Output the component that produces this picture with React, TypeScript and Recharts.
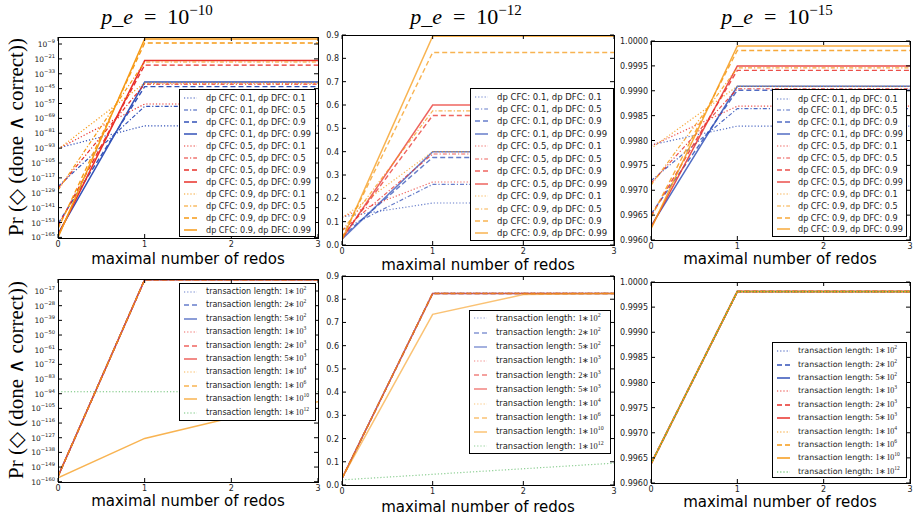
import React from "react";
import { LineChart, Line, XAxis, YAxis, Legend } from "recharts";

// x axis: maximal number of redos
const redos = [0, 1, 2, 3];

const cfcLevels = ["0.1", "0.5", "0.9"];
const dfcLevels = ["0.1", "0.5", "0.9", "0.99"];

// rows: CFC 0.1 (DFC 0.1, 0.5, 0.9, 0.99), CFC 0.5 (...), CFC 0.9 (...)
const pe10Values = [
  [1e-93, 1e-75, 1e-75, 1e-75],
  [1e-124, 5e-60, 5e-60, 5e-60],
  [1e-154, 4e-44, 4e-44, 4e-44],
  [1e-162, 2e-40, 2e-40, 2e-40],
  [3e-94, 4e-58, 4e-58, 4e-58],
  [3e-126, 5e-42, 5e-42, 5e-42],
  [1e-156, 1e-26, 1e-26, 1e-26],
  [3e-164, 4e-23, 4e-23, 4e-23],
  [1e-94, 3e-41, 3e-41, 3e-41],
  [1e-127, 3e-24, 3e-24, 3e-24],
  [1e-158, 6e-9, 6e-9, 6e-9],
  [1e-165, 1e-5, 1e-5, 1e-5],
];

const pe12Values = [
  [0.12, 0.18, 0.18, 0.18],
  [0.065, 0.26, 0.26, 0.26],
  [0.035, 0.375, 0.375, 0.375],
  [0.025, 0.4, 0.4, 0.4],
  [0.12, 0.27, 0.27, 0.27],
  [0.062, 0.39, 0.39, 0.39],
  [0.033, 0.555, 0.555, 0.555],
  [0.025, 0.6, 0.6, 0.6],
  [0.115, 0.4, 0.4, 0.4],
  [0.06, 0.575, 0.575, 0.575],
  [0.03, 0.825, 0.825, 0.825],
  [0.022, 0.895, 0.895, 0.895],
];

const pe15Values = [
  [0.99791, 0.99829, 0.99829, 0.99829],
  [0.99719, 0.99864, 0.99864, 0.99864],
  [0.99652, 0.99901, 0.99901, 0.99901],
  [0.99628, 0.99909, 0.99909, 0.99909],
  [0.99789, 0.99869, 0.99869, 0.99869],
  [0.99714, 0.99904, 0.99904, 0.99904],
  [0.99648, 0.99941, 0.99941, 0.99941],
  [0.99625, 0.9995, 0.9995, 0.9995],
  [0.99784, 0.99909, 0.99909, 0.99909],
  [0.9971, 0.99946, 0.99946, 0.99946],
  [0.99645, 0.99981, 0.99981, 0.99981],
  [0.99622, 0.9999, 0.9999, 0.9999],
];

// transaction lengths as mantissa * 10^exponent
const txLengths = [[1, 2], [2, 2], [5, 2], [1, 3], [2, 3], [5, 3], [1, 4], [1, 6], [1, 10], [1, 12]];

const txLogValues = [
  [1e-156, 3e-9, 3e-9, 3e-9],
  [1e-156, 3e-9, 3e-9, 3e-9],
  [1e-156, 3e-9, 3e-9, 3e-9],
  [1e-156, 3e-9, 3e-9, 3e-9],
  [1e-156, 3e-9, 3e-9, 3e-9],
  [1e-156, 3e-9, 3e-9, 3e-9],
  [1e-156, 3e-9, 3e-9, 3e-9],
  [1e-156, 3e-9, 3e-9, 3e-9],
  [1e-157, 3e-128, 1e-112, 1e-100],
  [3e-93, 3e-93, 3e-93, 3e-93],
];

const txLinValues = [
  [0.028, 0.825, 0.825, 0.825],
  [0.028, 0.825, 0.825, 0.825],
  [0.028, 0.825, 0.825, 0.825],
  [0.028, 0.825, 0.825, 0.825],
  [0.028, 0.825, 0.825, 0.825],
  [0.028, 0.825, 0.825, 0.825],
  [0.028, 0.825, 0.825, 0.825],
  [0.028, 0.825, 0.825, 0.825],
  [0.03, 0.735, 0.82, 0.825],
  [0.022, 0.046, 0.07, 0.094],
];

const tx15Values = [
  [0.99638, 0.99981, 0.99981, 0.99981],
  [0.99638, 0.99981, 0.99981, 0.99981],
  [0.99638, 0.99981, 0.99981, 0.99981],
  [0.99638, 0.99981, 0.99981, 0.99981],
  [0.99638, 0.99981, 0.99981, 0.99981],
  [0.99638, 0.99981, 0.99981, 0.99981],
  [0.99638, 0.99981, 0.99981, 0.99981],
  [0.99638, 0.99981, 0.99981, 0.99981],
  [0.99638, 0.99981, 0.99981, 0.99981],
  [0.99638, 0.99981, 0.99981, 0.99981],
];

const logTicks10 = [1e-165, 1e-153, 1e-141, 1e-129, 1e-117, 1e-105, 1e-93, 1e-81, 1e-69, 1e-57, 1e-45, 1e-33, 1e-21, 1e-9];
const logTicksTx = [1e-160, 1e-149, 1e-138, 1e-127, 1e-116, 1e-105, 1e-94, 1e-83, 1e-72, 1e-61, 1e-50, 1e-39, 1e-28, 1e-17];
const linTicks = [0, 0.1, 0.2, 0.3, 0.4, 0.5, 0.6, 0.7, 0.8, 0.9];
const fineTicks = [0.996, 0.9965, 0.997, 0.9975, 0.998, 0.9985, 0.999, 0.9995, 1.0];

const BLUE = "#3352b8";
const RED = "#e8302a";
const ORANGE = "#f69a17";
const GREEN = "#3fae49";

const DOT = "1.2 2";
const DASHDOT = "4 2 1.2 2";
const DASH = "5 3";

const cfcColors = [BLUE, RED, ORANGE];
const dfcStyles = [
  { dash: DOT, width: 1.2 },
  { dash: DASHDOT, width: 1.2 },
  { dash: DASH, width: 1.4 },
  { dash: undefined, width: 1.5 },
];
const txColors = [BLUE, BLUE, BLUE, RED, RED, RED, ORANGE, ORANGE, ORANGE, GREEN];
const txStyles = [DOT, DASH, undefined, DOT, DASH, undefined, DOT, DASH, undefined, DOT];

type Series = {
  key: string;
  label: React.ReactNode;
  color: string;
  dash?: string;
  width: number;
  values: number[];
};

function topSeries(values: number[][]): Series[] {
  return values.map((v, i) => {
    const c = Math.floor(i / 4);
    const d = i % 4;
    return {
      key: "s" + i,
      label: `dp CFC: ${cfcLevels[c]}, dp DFC: ${dfcLevels[d]}`,
      color: cfcColors[c],
      dash: dfcStyles[d].dash,
      width: dfcStyles[d].width,
      values: v,
    };
  });
}

function txSeries(values: number[][]): Series[] {
  return values.map((v, i) => ({
    key: "t" + i,
    label: (
      <>
        transaction length:{" "}
        <span style={{ fontFamily: "'Liberation Serif', serif", fontSize: "1em" }}>
          {txLengths[i][0]}∗10<sup style={{ fontSize: "0.7em", lineHeight: 0 }}>{txLengths[i][1]}</sup>
        </span>
      </>
    ),
    color: txColors[i],
    dash: txStyles[i],
    width: txStyles[i] === DOT ? 1.2 : 1.5,
    values: v,
  }));
}

type Rect = { l: number; t: number; w: number; h: number };
type LegendBoxSpec = { l: number; t: number; w: number; h: number; pad: number; pitch: number; textLeft: number; fs: number };

function LegendBox({ items, box, opacity }: { items: Series[]; box: LegendBoxSpec; opacity: number }) {
  return (
    <div
      style={{
        width: box.w,
        height: box.h,
        border: "1px solid #000",
        background: "#fff",
        boxSizing: "border-box",
        position: "relative",
        overflow: "hidden",
        fontFamily: "'DejaVu Sans', sans-serif",
        fontSize: box.fs,
        color: "#222",
      }}
    >
      {items.map((s, i) => (
        <div
          key={s.key}
          style={{
            position: "absolute",
            left: 0,
            top: box.pad + i * box.pitch - 6,
            height: 12,
            display: "flex",
            alignItems: "center",
            whiteSpace: "nowrap",
            lineHeight: "12px",
          }}
        >
          <svg width={box.textLeft - 1} height={8} style={{ flex: "none" }}>
            <line x1={4} x2={17} y1={4} y2={4} stroke={s.color} strokeWidth={s.width} strokeDasharray={s.dash} strokeOpacity={opacity} />
          </svg>
          <span>{s.label}</span>
        </div>
      ))}
    </div>
  );
}

const YW = 50;
const MT = 6;
const MR = 12;
const XH = 20;

function Panel({
  rect,
  series,
  log,
  domain,
  ticks,
  fmt,
  legend,
  opacity,
}: {
  rect: Rect;
  series: Series[];
  log: boolean;
  domain: [number, number];
  ticks: number[];
  fmt: (v: number) => string;
  legend: LegendBoxSpec;
  opacity: number;
}) {
  const W = YW + rect.w + MR;
  const H = MT + rect.h + XH;
  const left = rect.l - YW;
  const top = rect.t - MT;
  const rows = redos.map((r, i) => {
    const o: Record<string, number> = { x: r };
    series.forEach((s) => (o[s.key] = s.values[i]));
    return o;
  });
  const pl = YW;
  const pr = YW + rect.w;
  const pt = MT;
  const pb = MT + rect.h;

  const xTick = (p: any) => (
    <g>
      <line x1={p.x} x2={p.x} y1={pb} y2={pb - 4} stroke="#000" />
      <line x1={p.x} x2={p.x} y1={pt} y2={pt + 4} stroke="#000" />
      <text x={p.x} y={pb + 8.5} textAnchor="middle" fontSize={8} fontFamily="'DejaVu Sans', sans-serif" fill="#222">
        {p.payload.value}
      </text>
    </g>
  );

  const yTick = (p: any) => {
    const v = p.payload.value as number;
    return (
      <g>
        <line x1={pl} x2={pl + 4} y1={p.y} y2={p.y} stroke="#000" />
        <line x1={pr - 4} x2={pr} y1={p.y} y2={p.y} stroke="#000" />
        {log ? (
          <text x={pl - 3} y={p.y + 3} textAnchor="end" fontSize={7.5} fontFamily="'DejaVu Sans', sans-serif" fill="#222">
            10
            <tspan dy={-4} fontSize={5.2}>
              {"−" + Math.abs(Math.round(Math.log10(v)))}
            </tspan>
          </text>
        ) : (
          <text x={pl - 3} y={p.y + 3} textAnchor="end" fontSize={8} fontFamily="'DejaVu Sans', sans-serif" fill="#222">
            {fmt(v)}
          </text>
        )}
      </g>
    );
  };

  return (
    <div style={{ position: "absolute", left, top, width: W, height: H }}>
      <LineChart width={W} height={H} data={rows} margin={{ top: MT, right: MR, left: 0, bottom: 0 }}>
        <XAxis
          dataKey="x"
          type="number"
          domain={[0, 3]}
          ticks={redos}
          interval={0}
          axisLine={false}
          tickLine={false}
          height={XH}
          tick={xTick}
          allowDataOverflow
        />
        <YAxis
          type="number"
          scale={log ? "log" : "linear"}
          domain={domain}
          ticks={ticks}
          interval={0}
          axisLine={false}
          tickLine={false}
          width={YW}
          tick={yTick}
          allowDataOverflow
        />
        {series.map((s) => (
          <Line
            key={s.key}
            type="linear"
            dataKey={s.key}
            stroke={s.color}
            strokeWidth={s.width}
            strokeDasharray={s.dash}
            strokeOpacity={opacity}
            dot={false}
            activeDot={false}
            isAnimationActive={false}
          />
        ))}
        <Legend
          layout="horizontal"
          verticalAlign="middle"
          align="center"
          wrapperStyle={{ left: legend.l - left, top: legend.t - top, width: legend.w, height: legend.h }}
          content={() => <LegendBox items={series} box={legend} opacity={opacity} />}
        />
      </LineChart>
      <div
        style={{
          position: "absolute",
          left: pl - 0.5,
          top: pt - 0.5,
          width: rect.w + 1,
          height: rect.h + 1,
          border: "1px solid #000",
          boxSizing: "border-box",
          pointerEvents: "none",
        }}
      />
    </div>
  );
}

function Title({ x, exp }: { x: number; exp: string }) {
  return (
    <text x={x} y={24} textAnchor="middle" fontFamily="'Liberation Serif', serif" fontSize={22} fill="#000">
      <tspan fontStyle="italic">p</tspan>_<tspan fontStyle="italic">e</tspan>
      {"\u2002=\u200210"}
      <tspan dy={-9} fontSize={15}>
        {exp}
      </tspan>
    </text>
  );
}

function XLabel({ x, y }: { x: number; y: number }) {
  return (
    <text x={x} y={y} textAnchor="middle" fontFamily="'DejaVu Sans', sans-serif" fontSize={15} fill="#000">
      maximal number of redos
    </text>
  );
}

function YLabel({ y }: { y: number }) {
  return (
    <text
      transform={`translate(23, ${y}) rotate(-90)`}
      textAnchor="middle"
      fontFamily="'Liberation Serif', serif"
      fontSize={21}
      fill="#000"
    >
      Pr (◇ (done ∧ correct))
    </text>
  );
}

const fmt1 = (v: number) => v.toFixed(1);
const fmt4 = (v: number) => v.toFixed(4);

export default function App() {
  return (
    <div style={{ position: "absolute", left: 0, top: 0, width: 919, height: 515, background: "#fff" }}>
      <svg width={919} height={515} style={{ position: "absolute", left: 0, top: 0 }}>
        <Title x={157} exp="−10" />
        <Title x={466} exp="−12" />
        <Title x={777} exp="−15" />
        <XLabel x={188} y={264} />
        <XLabel x={478} y={270} />
        <XLabel x={780} y={264} />
        <XLabel x={188} y={506} />
        <XLabel x={478} y={512} />
        <XLabel x={780} y={507} />
        <YLabel y={137} />
        <YLabel y={380} />
      </svg>

      <Panel
        rect={{ l: 58, t: 37, w: 260, h: 201 }}
        series={topSeries(pe10Values)}
        log
        domain={[Math.pow(10, -165.5), Math.pow(10, -3.35)]}
        ticks={logTicks10}
        fmt={fmt1}
        legend={{ l: 179, t: 89, w: 137, h: 148, pad: 7.5, pitch: 12.0, textLeft: 27, fs: 8.1 }}
        opacity={1}
      />
      <Panel
        rect={{ l: 342, t: 35, w: 272, h: 210 }}
        series={topSeries(pe12Values)}
        log={false}
        domain={[0, 0.9]}
        ticks={linTicks}
        fmt={fmt1}
        legend={{ l: 470, t: 88, w: 144, h: 153, pad: 7.5, pitch: 12.45, textLeft: 27, fs: 8.5 }}
        opacity={0.75}
      />
      <Panel
        rect={{ l: 651, t: 41, w: 259, h: 199 }}
        series={topSeries(pe15Values)}
        log={false}
        domain={[0.996, 1.0]}
        ticks={fineTicks}
        fmt={fmt4}
        legend={{ l: 772, t: 89, w: 135, h: 148, pad: 8.5, pitch: 11.9, textLeft: 26, fs: 8.1 }}
        opacity={0.85}
      />
      <Panel
        rect={{ l: 58, t: 279, w: 260, h: 203 }}
        series={txSeries(txLogValues)}
        log
        domain={[Math.pow(10, -160.2), Math.pow(10, -8)]}
        ticks={logTicksTx}
        fmt={fmt1}
        legend={{ l: 179, t: 283, w: 137, h: 138, pad: 7.7, pitch: 13.45, textLeft: 27, fs: 8 }}
        opacity={0.75}
      />
      <Panel
        rect={{ l: 342, t: 276, w: 272, h: 209 }}
        series={txSeries(txLinValues)}
        log={false}
        domain={[0, 0.9]}
        ticks={linTicks}
        fmt={fmt1}
        legend={{ l: 469, t: 310, w: 142, h: 144, pad: 7.3, pitch: 14.2, textLeft: 27, fs: 8.4 }}
        opacity={0.6}
      />
      <Panel
        rect={{ l: 651, t: 282, w: 259, h: 201 }}
        series={txSeries(tx15Values)}
        log={false}
        domain={[0.996, 1.0]}
        ticks={fineTicks}
        fmt={fmt4}
        legend={{ l: 772, t: 342, w: 135, h: 136, pad: 8.4, pitch: 13.35, textLeft: 26, fs: 7.9 }}
        opacity={1}
      />
    </div>
  );
}
